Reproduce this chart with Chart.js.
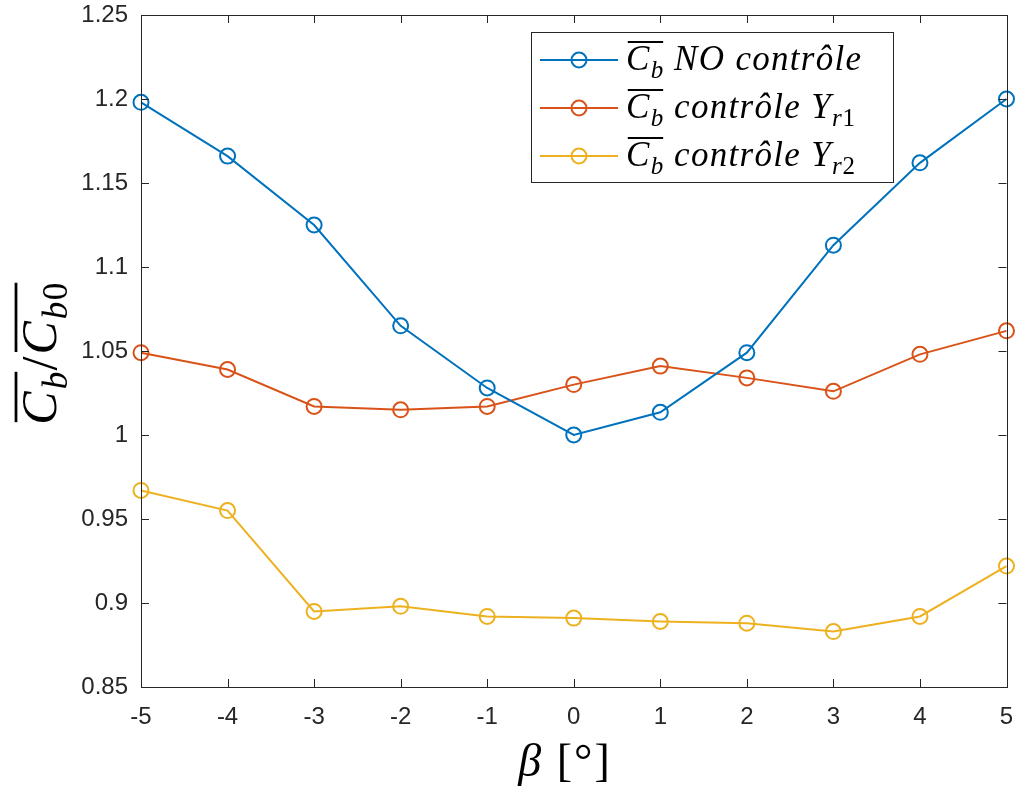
<!DOCTYPE html>
<html>
<head>
<meta charset="utf-8">
<script src="https://cdn.jsdelivr.net/npm/chart.js@4"></script>
<style>
  html, body { margin: 0; padding: 0; background: #fff; }
  #wrap { width: 1016px; height: 787px; }
</style>
</head>
<body>
<div id="wrap"><canvas id="chart" width="1016" height="787"></canvas></div>
<script>
// beta angles
const betas = [-5, -4, -3, -2, -1, 0, 1, 2, 3, 4, 5];
// Cb / Cb0 values
const noControl = [1.198, 1.166, 1.125, 1.065, 1.028, 1.000, 1.0135, 1.049, 1.113, 1.162, 1.200];
const controlYr1 = [1.049, 1.039, 1.017, 1.015, 1.017, 1.030, 1.041, 1.034, 1.026, 1.048, 1.062];
const controlYr2 = [0.967, 0.955, 0.895, 0.898, 0.892, 0.891, 0.889, 0.888, 0.883, 0.892, 0.922];

const colors = ['#0072BD', '#D95319', '#EDB120'];
const axisColor = '#262626';
const serif = '"Liberation Serif", "DejaVu Serif", serif';
const sans = '"Liberation Sans", Arial, sans-serif';

const toPoints = (vals) => vals.map((v, i) => ({ x: betas[i], y: v }));

// draw a string char by char with extra spacing, returns advance
function spaced(ctx, str, x, y, sp, draw) {
  let cx = x;
  for (const ch of str) {
    if (draw) ctx.fillText(ch, cx, y);
    cx += ctx.measureText(ch).width + sp;
  }
  return cx - x;
}

// simple math text: items {t, sub, bar, upright}
function mathText(ctx, x, y, size, items, draw = true, sp = 0) {
  let cx = x;
  items.forEach((it) => {
    const start = cx;
    ctx.font = (it.upright ? '' : 'italic ') + size + 'px ' + serif;
    cx += spaced(ctx, it.t, cx, y, sp, draw);
    if (it.sub) {
      const ss = Math.round(size * 0.7);
      for (const ch of it.sub) {
        ctx.font = (/[0-9]/.test(ch) ? '' : 'italic ') + ss + 'px ' + serif;
        cx += spaced(ctx, ch, cx, y + size * 0.22, sp * 0.7, draw);
      }
    }
    if (it.bar && draw) {
      ctx.save();
      ctx.lineWidth = Math.max(1.5, size * 0.055);
      ctx.beginPath();
      ctx.moveTo(start + size * 0.05, y - size * 0.8);
      ctx.lineTo(cx - sp * 0.7, y - size * 0.8);
      ctx.stroke();
      ctx.restore();
    }
  });
  return cx - x;
}

const legendItems = [
  [{ t: 'C', sub: 'b', bar: true }, { t: ' NO contrôle' }],
  [{ t: 'C', sub: 'b', bar: true }, { t: ' contrôle Y', sub: 'r1' }],
  [{ t: 'C', sub: 'b', bar: true }, { t: ' contrôle Y', sub: 'r2' }],
];

const decorPlugin = {
  id: 'decor',
  afterDatasetsDraw(chart) {
    const { ctx, chartArea: a, scales } = chart;
    ctx.save();
    ctx.strokeStyle = axisColor;
    ctx.lineWidth = 1;
    ctx.strokeRect(Math.round(a.left) + 0.5, Math.round(a.top) + 0.5, Math.round(a.width), Math.round(a.height));
    // inward ticks
    const tl = 8;
    ctx.beginPath();
    scales.x.ticks.forEach((t) => {
      const px = Math.round(scales.x.getPixelForValue(t.value)) + 0.5;
      ctx.moveTo(px, a.bottom); ctx.lineTo(px, a.bottom - tl);
      ctx.moveTo(px, a.top); ctx.lineTo(px, a.top + tl);
    });
    scales.y.ticks.forEach((t) => {
      const py = Math.round(scales.y.getPixelForValue(t.value)) + 0.5;
      ctx.moveTo(a.left, py); ctx.lineTo(a.left + tl, py);
      ctx.moveTo(a.right, py); ctx.lineTo(a.right - tl, py);
    });
    ctx.stroke();

    // legend
    const lx = 531, ly = 32, lw = 362, lh = 150;
    ctx.fillStyle = '#fff';
    ctx.fillRect(lx, ly, lw, lh);
    ctx.strokeStyle = axisColor;
    ctx.strokeRect(lx + 0.5, ly + 0.5, lw, lh);
    legendItems.forEach((items, i) => {
      const cy = 60 + i * 48;
      ctx.strokeStyle = colors[i];
      ctx.lineWidth = 2;
      ctx.beginPath();
      ctx.moveTo(540, cy); ctx.lineTo(618, cy);
      ctx.stroke();
      ctx.beginPath();
      ctx.arc(579, cy, 7.5, 0, Math.PI * 2);
      ctx.stroke();
      ctx.fillStyle = '#000';
      ctx.strokeStyle = '#000';
      ctx.textBaseline = 'alphabetic';
      mathText(ctx, 626, cy + 10, 35, items, true, 1.3);
    });

    // axis titles
    ctx.fillStyle = '#000';
    ctx.strokeStyle = '#000';
    const yItems = [{ t: 'C', sub: 'b', bar: true }, { t: '/', upright: true }, { t: 'C', sub: 'b0', bar: true }];
    ctx.save();
    ctx.translate(56, 353);
    ctx.rotate(-Math.PI / 2);
    const yw = mathText(ctx, 0, 0, 50, yItems, false, 2);
    mathText(ctx, -yw / 2, 0, 50, yItems, true, 2);
    ctx.restore();

    const xItems = [{ t: 'β' }, { t: ' [°]', upright: true }];
    const xw = mathText(ctx, 0, 0, 46, xItems, false, 2);
    mathText(ctx, 565 - xw / 2, 776, 46, xItems, true, 2);
    ctx.restore();
  },
};

const datasets = [noControl, controlYr1, controlYr2].map((vals, i) => ({
  label: ['NO contrôle', 'contrôle Yr1', 'contrôle Yr2'][i],
  data: toPoints(vals),
  borderColor: colors[i],
  backgroundColor: 'transparent',
  pointBackgroundColor: 'transparent',
  pointBorderColor: colors[i],
  pointBorderWidth: 2,
  pointRadius: 7.5,
  borderWidth: 2,
  tension: 0,
  clip: false,
  showLine: true,
}));

new Chart(document.getElementById('chart'), {
  type: 'scatter',
  data: { datasets },
  options: {
    responsive: false,
    animation: false,
    devicePixelRatio: 1,
    layout: { padding: { left: 0, right: 9, top: 15, bottom: 0 } },
    plugins: { legend: { display: false }, tooltip: { enabled: false } },
    scales: {
      x: {
        type: 'linear',
        min: -5, max: 5,
        border: { display: false },
        grid: { display: false, drawTicks: false },
        ticks: {
          stepSize: 1,
          color: axisColor,
          font: { family: sans, size: 24 },
          padding: 16,
          maxRotation: 0,
        },
        afterFit: (s) => { s.height = 100; s.paddingLeft = 0; s.paddingRight = 0; },
      },
      y: {
        min: 0.85, max: 1.25,
        border: { display: false },
        grid: { display: false, drawTicks: false },
        ticks: {
          stepSize: 0.05,
          color: axisColor,
          font: { family: sans, size: 24 },
          padding: 13,
          callback: (v) => String(parseFloat(v.toFixed(2))),
        },
        afterFit: (s) => { s.width = 141; s.paddingTop = 0; s.paddingBottom = 0; },
      },
    },
  },
  plugins: [decorPlugin],
});
</script>
</body>
</html>
